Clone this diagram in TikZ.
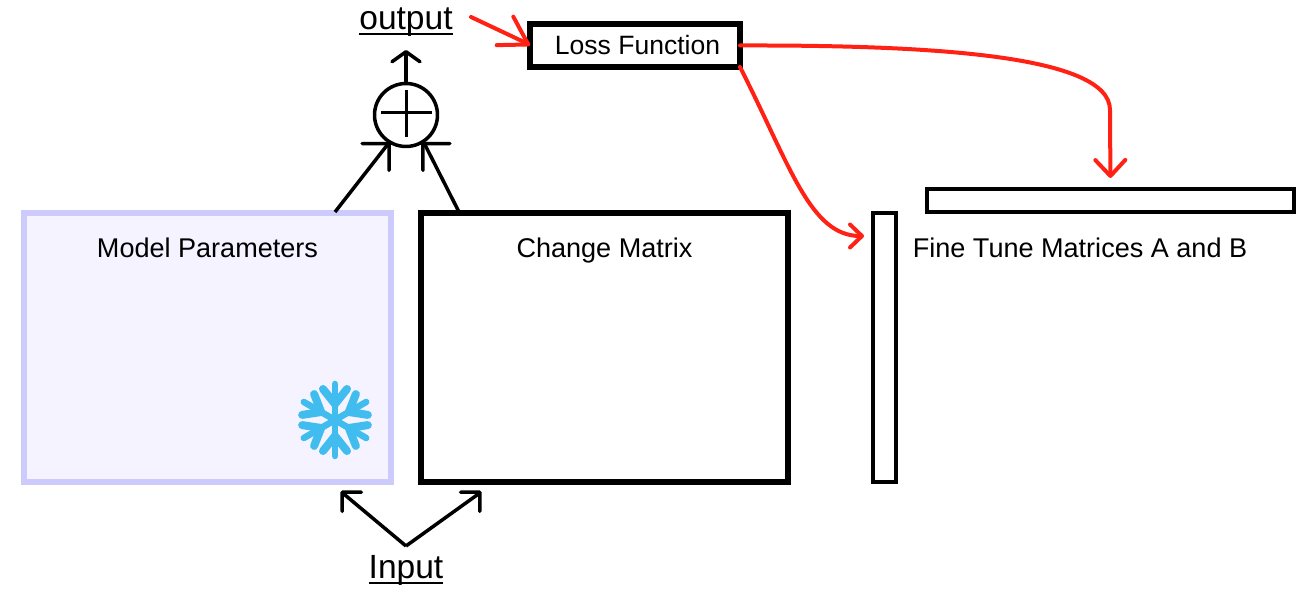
\documentclass[tikz,border=0pt]{standalone}
\usepackage{fontspec}
\setmainfont{Liberation Sans}
\usetikzlibrary{arrows.meta, positioning, calc}
\definecolor{frozenline}{HTML}{CCCBFB}
\definecolor{frozenfill}{HTML}{F4F3FF}
\definecolor{flakeblue}{HTML}{40BDEE}
\definecolor{lossred}{HTML}{FF2214}
\newcommand{\labelline}[1]{\setbox0\hbox{#1}\rlap{\rule[-3.3pt]{\wd0}{1.3pt}}\box0}

\begin{document}
\begin{tikzpicture}[
            x=0.02cm, y=-0.02cm,
            % Boxes
            bigbox/.style={rectangle, draw=black, line width=0.105cm, minimum width=7.34cm, minimum height=5.38cm, outer sep=0pt},
            thinbox/.style={rectangle, draw=black, line width=0.08cm, outer sep=0pt},
            lossbox/.style={rectangle, draw=black, line width=0.105cm, minimum width=4.2cm, minimum height=0.86cm, outer sep=0pt, font=\fontsize{15.1}{18}\selectfont},
            sumnode/.style={circle, draw=black, line width=0.07cm, minimum size=1.26cm, inner sep=0pt, outer sep=0pt},
            % Labels
            boxlabel/.style={inner sep=0pt, anchor=base, font=\fontsize{15.4}{18}\selectfont},
            biglabel/.style={inner xsep=0pt, font=\fontsize{19.1}{23}\selectfont},
            % Arrows
            bararrow/.style={line width=0.07cm, -{Straight Barb[length=0.38cm, width=0.76cm, round]}},
            smallarrow/.style={line width=0.07cm, -{Straight Barb[length=0.27cm, width=0.54cm, round]}},
            outarrow/.style={line width=0.07cm, -{Straight Barb[length=0.2cm, width=0.56cm, round]}},
            redarrow/.style={line width=0.08cm, draw=lossred, line cap=round},
            flakeline/.style={draw=flakeblue, line cap=round}
            ]
            \useasboundingbox (0,0) rectangle (1303,604);

            % Nodes
            \node (modelbox) [bigbox, draw=frozenline, fill=frozenfill] at (207.5,347.5) {};
            \node (changebox) [bigbox, right=0.6cm of modelbox] {};
            \node (tallbox) [thinbox, minimum width=0.46cm, minimum height=5.38cm] at (884.5,347.5) {};
            \node (widebox) [thinbox, minimum width=7.34cm, minimum height=0.46cm] at (1110.5,200.5) {};
            \node (lossfn) [lossbox] at (635,45.5) {\hspace{0.1cm}Loss Function};
            \node (sum) [sumnode] at (406,115) {};
            \node (outputlabel) [biglabel, anchor=south, inner ysep=0.27cm] at (406,50) {\labelline{output}};
            \node (inputlabel) [biglabel, anchor=north, inner ysep=0.18cm] at (406,546) {\labelline{Input}};
            \node (modellabel) [boxlabel] at (207.5,257.5) {Model Parameters};
            \node (changelabel) [boxlabel] at (604.5,257.5) {Change Matrix};
            \node (finelabel) [boxlabel] at (1080,257.5) {Fine Tune Matrices A and B};

            % Free ends
            \coordinate (modeltop) at (335,212);
            \coordinate (changetop) at (459,212);
            \coordinate (modelin) at (341,491);
            \coordinate (changein) at (481,491);
            \coordinate (redstart) at (471,17);
            \coordinate (talltip) at (864,236);

            % Plus sign
            \draw [line width=0.06cm] ($(sum.center)+(-25,-2)$) -- ($(sum.center)+(26,-2)$);
            \draw [line width=0.06cm] ($(sum.center)+(0,-25)$) -- ($(sum.center)+(0,22)$);

            % Black connections
            \draw [outarrow] (sum.north) -- (outputlabel.south);
            \draw [bararrow] (modeltop) -- ($(sum.240)+(-4,4)$) -- (sum.240);
            \draw [bararrow] (changetop) -- ($(sum.300)+(4,4)$) -- (sum.300);
            \draw [smallarrow] (inputlabel.north) -- ($(modelin)+(4,4)$) -- (modelin);
            \draw [smallarrow] (inputlabel.north) -- ($(changein)+(-4,4)$) -- (changein);

            % Red connections
            \draw [redarrow, -{Straight Barb[length=0.54cm, width=0.66cm, round]}] (redstart) -- ($(lossfn.west)+(-6,-3.5)$) -- (lossfn.west);
            \draw [redarrow, shorten >=0.22cm, -{Straight Barb[length=0.32cm, width=0.6cm, round]}] (lossfn.east) .. controls (930,45) and (1110,55) .. (1110,110) -- (widebox.north);
            \draw [redarrow, -{Straight Barb[length=0.24cm, width=0.46cm, round]}] (lossfn.south east) .. controls (790,165) and (810,236) .. (talltip);

            % Snowflake
            \foreach \ang in {30,90,150,210,270,330} {
                \begin{scope}[shift={(335,420)}, rotate=\ang]
                    \draw [flakeline, line width=0.13cm] (0,0) -- (36,0);
                    \draw [flakeline, line width=0.16cm] (16,0) -- (31,12);
                    \draw [flakeline, line width=0.16cm] (16,0) -- (31,-12);
                \end{scope}
            }

        \end{tikzpicture}
\end{document}
